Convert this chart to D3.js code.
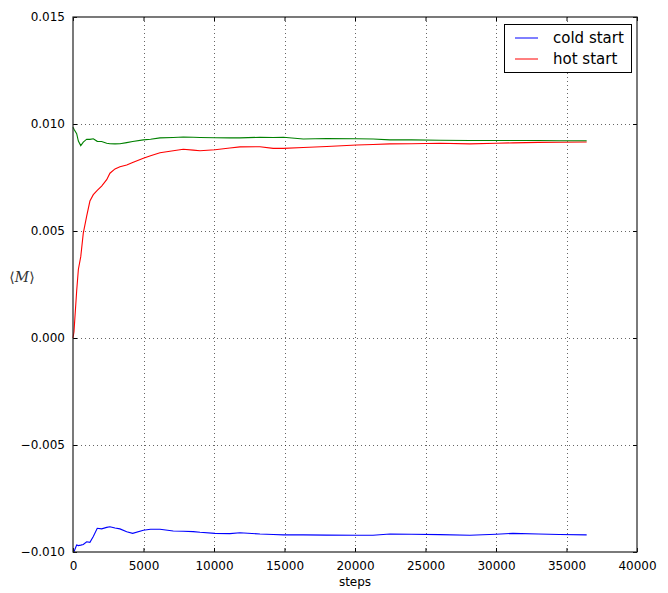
<!DOCTYPE html>
<html>
<head>
<meta charset="utf-8">
<script src="https://cdn.jsdelivr.net/npm/d3@7"></script>
<style>
  body { margin: 0; background: #fff; }
  svg { display: block; font-family: "DejaVu Sans", sans-serif; }
  .grid line { stroke: #000; stroke-opacity: 0.6; stroke-dasharray: 1,3; }
</style>
</head>
<body>
<div id="chart"></div>
<script>
// data
var steps = [0, 70, 260, 380, 550, 730, 970, 1200, 1440, 1720, 2030, 2390, 2620, 2980, 3330, 3810, 4230, 4990, 5500, 6170, 7110, 7820, 8530, 9010, 10070, 11130, 11840, 13260, 14200, 14920, 16330, 18000, 20120, 21280, 22480, 24000, 26030, 28150, 30000, 31200, 33000, 34500, 36430];
var avgM = [0.00985, 0.00975, 0.00955, 0.0092, 0.00899, 0.00915, 0.00929, 0.00928, 0.00931, 0.00919, 0.00918, 0.00910, 0.00908, 0.00907, 0.00908, 0.00913, 0.00918, 0.00926, 0.00929, 0.00935, 0.00937, 0.00939, 0.00938, 0.00937, 0.00936, 0.00935, 0.00935, 0.00938, 0.00937, 0.00938, 0.0093, 0.00932, 0.00931, 0.0093, 0.00926, 0.00926, 0.00924, 0.00923, 0.00923, 0.00923, 0.00923, 0.00922, 0.00922];
var hotStart = [0.0, 0.0003, 0.0022, 0.0032, 0.0038, 0.0049, 0.0057, 0.0064, 0.0067, 0.0069, 0.0071, 0.0074, 0.0077, 0.0079, 0.0080, 0.00808, 0.0082, 0.0084, 0.00852, 0.00866, 0.00875, 0.00882, 0.00878, 0.00875, 0.00880, 0.00888, 0.00893, 0.00894, 0.00886, 0.00886, 0.0089, 0.00895, 0.00902, 0.00904, 0.00907, 0.00908, 0.0091, 0.00907, 0.0091, 0.00912, 0.00914, 0.00915, 0.00916];
var coldStart = [-0.0100, -0.00999, -0.00967, -0.0097, -0.00968, -0.00965, -0.00952, -0.00955, -0.00928, -0.00889, -0.00892, -0.00885, -0.00882, -0.00888, -0.00892, -0.00905, -0.00913, -0.00898, -0.00894, -0.00894, -0.00902, -0.00903, -0.00905, -0.00908, -0.00913, -0.00914, -0.0091, -0.00916, -0.00918, -0.00920, -0.0092, -0.00921, -0.00922, -0.00922, -0.00916, -0.00917, -0.00919, -0.00922, -0.00917, -0.00913, -0.00916, -0.00918, -0.0092];
var xTicks = [0, 5000, 10000, 15000, 20000, 25000, 30000, 35000, 40000];
var yTicks = [-0.010, -0.005, 0.000, 0.005, 0.010, 0.015];

var series = [
  { name: "cold start", values: coldStart, color: "#0000ff", legend: true },
  { name: "hot start", values: hotStart, color: "#ff0000", legend: true },
  { name: "average", values: avgM, color: "#008000", legend: false }
];

var W = 668, H = 593;
var margin = { top: 17, right: 31, bottom: 41, left: 73 },
  width = W - margin.left - margin.right,
  height = H - margin.top - margin.bottom;

var svg = d3.select("#chart").append("svg")
  .attr("width", W)
  .attr("height", H);

var g = svg.append("g")
  .attr("transform", "translate(" + margin.left + "," + margin.top + ")");

var x = d3.scaleLinear().domain([0, 40000]).range([0, width]);
var y = d3.scaleLinear().domain([-0.010, 0.015]).range([height, 0]);

// dotted grid
g.append("g").attr("class", "grid")
  .selectAll("line").data(xTicks.slice(1, -1)).enter().append("line")
  .attr("x1", d => Math.round(x(d)) + 0.5).attr("x2", d => Math.round(x(d)) + 0.5)
  .attr("y1", 0).attr("y2", height);
g.append("g").attr("class", "grid")
  .selectAll("line").data(yTicks.slice(1, -1)).enter().append("line")
  .attr("y1", d => Math.round(y(d)) + 0.5).attr("y2", d => Math.round(y(d)) + 0.5)
  .attr("x1", 0).attr("x2", width);

// lines
var line = d3.line()
  .x((d, i) => x(steps[i]))
  .y(d => y(d));

g.selectAll(".series").data(series).enter().append("path")
  .attr("class", "series")
  .attr("fill", "none")
  .attr("stroke", d => d.color)
  .attr("stroke-width", 1.1)
  .attr("d", d => line(d.values));

// axes, ticks inside on all four sides
var fmtY = d3.format(".3f");
var xAxis = g.append("g").attr("transform", "translate(0," + height + ")")
  .call(d3.axisBottom(x).tickValues(xTicks).tickSizeInner(-4).tickSizeOuter(0).tickPadding(9).tickFormat(d3.format("d")));
var xTop = g.append("g")
  .call(d3.axisTop(x).tickValues(xTicks).tickSizeInner(-4).tickSizeOuter(0).tickFormat(""));
var yAxis = g.append("g")
  .call(d3.axisLeft(y).tickValues(yTicks).tickSizeInner(-4).tickSizeOuter(0).tickPadding(8).tickFormat(fmtY));
var yRight = g.append("g").attr("transform", "translate(" + width + ",0)")
  .call(d3.axisRight(y).tickValues(yTicks).tickSizeInner(-4).tickSizeOuter(0).tickFormat(""));

[xAxis, xTop, yAxis, yRight].forEach(function (a) {
  a.select(".domain").remove();
  a.selectAll("line").attr("stroke", "#000");
  a.selectAll("text").attr("font-size", 12).attr("fill", "#000")
    .attr("font-family", "DejaVu Sans, sans-serif");
});

// frame
g.append("rect")
  .attr("x", 0).attr("y", 0)
  .attr("width", width).attr("height", height)
  .attr("fill", "none").attr("stroke", "#222").attr("stroke-width", 1.2);

// axis labels
svg.append("text")
  .attr("x", margin.left + width / 2).attr("y", H - 7)
  .attr("text-anchor", "middle").attr("font-size", 12)
  .text("steps");

var ylab = svg.append("text")
  .attr("x", 22).attr("y", 282)
  .attr("text-anchor", "middle").attr("font-size", 14)
  .attr("fill", "#333")
  .attr("font-family", "DejaVu Serif, serif");
ylab.append("tspan").text("\u27E8");
ylab.append("tspan").attr("font-style", "italic").text("M");
ylab.append("tspan").text("\u27E9");

// legend
var legendItems = series.filter(d => d.legend);
var lg = svg.append("g").attr("transform", "translate(504,24)");
lg.append("rect")
  .attr("x", 0.5).attr("y", 0.5)
  .attr("width", 127).attr("height", 48)
  .attr("fill", "#fff").attr("stroke", "#000");
var li = lg.selectAll(".item").data(legendItems).enter().append("g")
  .attr("class", "item")
  .attr("transform", (d, i) => "translate(0," + (14 + i * 21) + ")");
li.append("line")
  .attr("x1", 11).attr("x2", 34)
  .attr("y1", 0).attr("y2", 0)
  .attr("stroke", d => d.color);
li.append("text")
  .attr("x", 49).attr("y", 5)
  .attr("font-size", 15)
  .text(d => d.name);
</script>
</body>
</html>
